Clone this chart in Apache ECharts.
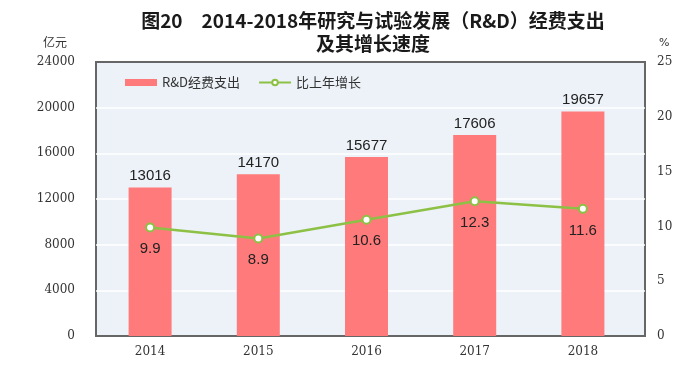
<!DOCTYPE html>
<html><head><meta charset="utf-8">
<script src="https://cdn.jsdelivr.net/npm/echarts@6/dist/echarts.min.js"></script>
<style>html,body{margin:0;padding:0;background:#fff}#c{width:687px;height:366px}</style>
</head><body><div id="c"></div>
<script>
const categories = ['2014','2015','2016','2017','2018'];
const spending = [13016, 14170, 15677, 17606, 19657];
const growth = [9.9, 8.9, 10.6, 12.3, 11.6];
const leftTicks = [0, 4000, 8000, 12000, 16000, 20000, 24000];
const rightTicks = [0, 5, 10, 15, 20, 25];

const chart = echarts.init(document.getElementById('c'));
const tickFont = {fontFamily: 'DejaVu Serif', fontSize: 12, color: '#333'};
const titleFont = {fontFamily: 'Noto Sans CJK SC', fontSize: 19, fontWeight: 'bold', color: '#1a1a1a'};
chart.setOption({
  animation: false,
  title: [
    {text: '图20　2014-2018年研究与试验发展（R&D）经费支出', left: 368, textAlign: 'center', top: 6,
     textStyle: titleFont},
    {text: '及其增长速度', left: 368, textAlign: 'center', top: 29,
     textStyle: titleFont},
    {text: '亿元', left: 38, top: 31, textStyle: {fontFamily: 'Noto Sans CJK SC', fontSize: 12, fontWeight: 'normal', color: '#333'}},
    {text: '%', left: 654, top: 33, textStyle: {fontFamily: 'DejaVu Sans', fontSize: 11, fontWeight: 'normal', color: '#333'}}
  ],
  legend: {
    top: 71, left: 120, itemGap: 18,
    textStyle: {fontFamily: 'Noto Sans CJK SC', fontSize: 13, color: '#333'},
    data: [
      {name: 'R&D经费支出', icon: 'rect', itemStyle: {color: '#ff7b7b'}},
      {name: '比上年增长'}
    ],
    itemWidth: 32, itemHeight: 7
  },
  grid: [
    {left: 96, top: 62, width: 549, height: 274, show: true, backgroundColor: '#ecf2f8',
     borderColor: '#666666', borderWidth: 2, z: 0},
    {left: 96, top: 62, width: 541, height: 274}
  ],
  xAxis: [
    {gridIndex: 0, type: 'category', data: categories, show: false},
    {gridIndex: 1, type: 'category', data: categories,
     axisLine: {show: false}, axisTick: {show: false},
     axisLabel: Object.assign({margin: 10}, tickFont)}
  ],
  yAxis: [
    {gridIndex: 0, type: 'value', min: 0, max: 24000, interval: 4000,
     axisLine: {show: false}, axisTick: {show: false}, axisLabel: {show: false},
     splitLine: {lineStyle: {color: ['transparent', '#ffffff', '#ffffff', '#ffffff', '#ffffff', '#ffffff', 'transparent'], width: 1.5}}},
    {gridIndex: 1, type: 'value', min: 0, max: 24000, interval: 4000,
     axisLine: {show: false}, axisTick: {show: false},
     axisLabel: Object.assign({margin: 21, formatter: v => String(v)}, tickFont),
     splitLine: {show: false}},
    {gridIndex: 1, type: 'value', min: 0, max: 25, interval: 5, position: 'right',
     offset: 8,
     axisLine: {show: false}, axisTick: {show: false},
     axisLabel: Object.assign({margin: 12, formatter: v => String(v)}, tickFont),
     splitLine: {show: false}}
  ],
  series: [
    {name: 'R&D经费支出', type: 'bar', xAxisIndex: 1, yAxisIndex: 1, data: spending,
     barWidth: 43, itemStyle: {color: '#ff7b7b'},
     label: {show: true, position: 'top', distance: 4, fontFamily: 'Liberation Sans', fontSize: 15, color: '#222'}},
    {name: '比上年增长', type: 'line', xAxisIndex: 1, yAxisIndex: 2, data: growth,
     symbol: 'circle', symbolSize: 8,
     lineStyle: {color: '#8dc145', width: 2.5},
     itemStyle: {color: '#ffffff', borderColor: '#8dc145', borderWidth: 2},
     label: {show: true, position: 'bottom', distance: 9, fontFamily: 'Liberation Sans', fontSize: 15, color: '#222'}}
  ]
});
</script></body></html>
